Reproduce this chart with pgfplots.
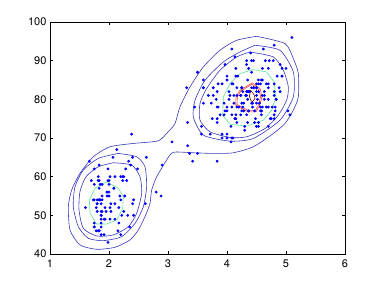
\documentclass[border=0pt]{standalone}
\usepackage{fontspec}
\setmainfont{TeX Gyre Heros}
\usepackage{pgfplots}
\usepackage{pgfplotstable}
\pgfplotsset{compat=1.18}

\definecolor{cblue}{RGB}{55,55,185}
\definecolor{cgreen}{RGB}{90,230,150}
\definecolor{cred}{RGB}{240,70,60}
\definecolor{cdred}{RGB}{130,0,0}

% eruption duration (min) vs waiting time (min)
\pgfplotstableread{
dur wait
3.600 79
1.800 54
3.333 74
2.283 62
4.533 85
2.883 55
4.700 88
3.600 85
1.950 51
4.350 85
1.833 54
3.917 84
4.200 78
1.750 47
4.700 83
2.167 52
1.750 62
4.800 84
1.600 52
4.250 79
1.800 51
1.750 47
3.450 78
3.067 69
4.533 74
3.600 83
1.967 55
4.083 76
3.850 78
4.433 79
4.300 73
4.467 77
3.367 66
4.033 80
3.833 74
2.017 52
1.867 48
4.833 80
1.833 59
4.783 90
4.350 80
1.883 58
4.567 84
1.750 58
4.533 73
3.317 83
3.833 64
2.100 53
4.633 82
2.000 59
4.800 75
4.716 90
1.833 54
4.833 80
1.733 54
4.883 83
3.717 71
1.667 64
4.567 77
4.317 81
2.233 59
4.500 84
1.750 48
4.800 82
1.817 60
4.400 92
4.167 78
4.700 78
2.067 65
4.700 73
4.033 82
1.967 56
4.500 79
4.000 71
1.983 62
5.067 76
2.017 60
4.567 78
3.883 76
3.600 83
4.133 75
4.333 82
4.100 70
2.633 65
4.067 73
4.933 88
3.950 76
4.517 80
2.167 48
4.000 86
2.200 60
4.333 90
1.867 50
4.817 78
1.833 63
4.300 72
4.667 84
3.750 75
1.867 51
4.900 82
2.483 62
4.367 88
2.100 49
4.500 83
4.050 81
1.867 47
4.700 84
1.783 52
4.850 86
3.683 81
4.733 75
2.300 59
4.900 89
4.417 79
1.700 59
4.633 81
2.317 50
4.600 85
1.817 59
4.417 87
2.617 53
4.067 69
4.250 77
1.967 56
4.600 88
3.767 81
1.917 45
4.500 82
2.267 55
4.650 90
1.867 45
4.167 83
2.800 56
4.333 89
1.833 46
4.383 82
1.883 51
4.933 86
2.033 53
3.733 79
4.233 81
2.233 60
4.533 82
4.817 77
4.333 76
1.983 59
4.633 80
2.017 49
5.100 96
1.800 53
5.033 77
4.000 77
2.400 65
4.600 81
3.567 71
4.000 70
4.500 81
4.083 93
1.800 53
3.967 89
2.200 45
4.150 86
2.000 58
3.833 78
3.500 66
4.583 76
2.367 63
5.000 88
1.933 52
4.617 93
1.917 49
2.083 57
4.583 77
3.333 68
4.167 81
4.333 81
4.500 73
2.417 50
4.000 85
4.167 74
1.883 55
4.583 77
4.250 83
3.767 83
2.033 51
4.433 78
4.083 84
1.833 46
4.417 83
2.183 55
4.800 81
1.833 57
4.800 76
4.100 84
3.966 77
4.233 81
3.500 87
4.366 77
2.250 51
4.667 78
2.100 60
4.350 82
4.133 91
1.867 53
4.600 78
1.783 46
4.367 77
3.850 84
1.933 49
4.500 83
2.383 71
4.700 80
1.867 49
3.833 75
3.417 64
4.233 76
2.400 53
4.800 94
2.000 55
4.150 76
1.867 50
4.267 82
1.750 54
4.483 75
4.000 78
4.117 79
4.083 78
4.267 78
3.917 70
4.550 79
4.083 70
2.417 54
4.183 86
2.217 50
4.450 90
1.883 54
1.850 54
4.283 77
3.950 79
2.333 64
4.150 75
2.350 47
4.933 86
2.900 63
4.583 85
3.833 82
2.083 57
4.367 82
2.133 67
4.350 74
2.200 54
4.450 83
3.567 73
4.500 73
4.150 88
3.817 80
3.917 71
4.450 83
2.000 56
4.283 79
4.767 78
4.533 84
1.850 58
4.250 83
1.983 43
2.250 60
4.750 75
4.117 81
2.150 46
4.417 90
1.817 46
4.467 74
}\faithful

\begin{document}
\begin{tikzpicture}
\path (0,0) rectangle (382pt,286pt);
\begin{axis}[
  at={(50pt,32pt)}, anchor=south west,
  scale only axis, width=295pt, height=232pt,
  xmin=1, xmax=6, ymin=40, ymax=100,
  xtick={1,2,3,4,5,6}, ytick={40,50,60,70,80,90,100},
  tick align=inside, major tick length=3pt,
  tick style={black, line width=0.5pt},
  axis line style={line width=0.5pt},
  ticklabel style={font=\fontsize{11}{13}\selectfont},
  xticklabel style={yshift=-2pt},
  /pgf/number format/assume math mode=true,
  every axis plot/.append style={line width=0.6pt},
]
% outer contour joining both clusters
\addplot[cblue, smooth, tension=0.4] coordinates {
  (4.503,96.30) (4.983,94.41) (5.124,90.53) (5.209,86.66) (5.209,80.64)
  (5.124,77.19) (4.983,73.75) (4.785,71.17) (4.446,67.73) (4.107,66.18)
  (3.768,66.01) (3.429,66.18) (3.090,66.30) (2.977,64.29) (2.808,59.98)
  (2.723,56.54) (2.695,53.10) (2.610,49.66) (2.497,46.21) (2.356,43.63)
  (2.102,41.74) (1.791,41.22) (1.508,42.34) (1.339,46.21) (1.311,52.24)
  (1.367,56.54) (1.508,60.84) (1.734,65.15) (2.017,67.73) (2.412,68.59)
  (2.836,69.28) (3.000,71.60) (3.119,73.75) (3.203,78.06) (3.373,83.22)
  (3.599,88.38) (3.881,92.69) (4.164,95.27) (4.503,96.30)};
% upper cluster
\addplot[cblue, smooth, tension=0.4] coordinates {
  (4.475,93.98) (4.898,92.68) (5.124,87.09) (5.124,80.64) (4.898,74.61)
  (4.446,69.88) (4.051,69.19) (3.599,70.74) (3.429,75.47) (3.458,79.78)
  (3.627,84.94) (3.938,89.67) (4.220,92.25) (4.475,93.98)};
\addplot[cblue, smooth, tension=0.4] coordinates {
  (4.390,92.25) (4.785,90.96) (4.955,87.52) (5.040,83.22) (5.011,79.78)
  (4.870,75.90) (4.644,72.46) (4.333,70.31) (4.051,70.14) (3.712,71.60)
  (3.542,74.61) (3.542,78.92) (3.655,82.79) (3.881,87.52) (4.164,90.96)
  (4.390,92.25)};
\addplot[cgreen] coordinates {
  (4.446,87.69) (4.672,87.09) (4.797,84.51) (4.831,80.64) (4.757,77.19)
  (4.616,74.61) (4.333,73.06) (4.051,73.58) (3.927,75.90) (3.938,80.64)
  (4.051,84.08) (4.220,86.66) (4.446,87.69)};
\addplot[cred] coordinates {
  (4.429,84.25) (4.559,82.79) (4.593,80.64) (4.548,78.23) (4.492,76.76)
  (4.362,76.76) (4.249,77.62) (4.147,78.49) (4.153,80.64) (4.220,82.36)
  (4.333,83.39) (4.429,84.25)};
\addplot[cred] coordinates {
  (4.423,83.88) (4.540,82.56) (4.571,80.63) (4.530,78.46) (4.480,77.13)
  (4.363,77.13) (4.261,77.91) (4.169,78.69) (4.175,80.63) (4.235,82.17)
  (4.337,83.10) (4.423,83.88)};
\addplot[cdred] coordinates {
  (4.401,82.36) (4.463,81.07) (4.475,80.21) (4.429,79.35) (4.401,79.78)
  (4.379,80.81) (4.401,82.36)};
% lower cluster
\addplot[cblue, smooth, tension=0.4] coordinates {
  (2.158,66.01) (2.469,65.15) (2.610,62.56) (2.638,57.40) (2.582,52.24)
  (2.441,47.93) (2.215,44.49) (1.904,43.46) (1.650,44.06) (1.480,47.07)
  (1.395,52.24) (1.424,57.40) (1.565,61.70) (1.819,64.72) (2.158,66.01)};
\addplot[cblue, smooth, tension=0.4] coordinates {
  (2.073,63.60) (2.384,63.00) (2.525,59.98) (2.554,55.68) (2.469,50.52)
  (2.328,47.07) (2.073,44.92) (1.791,44.66) (1.565,46.64) (1.492,51.38)
  (1.508,56.11) (1.610,59.98) (1.819,62.56) (2.073,63.60)};
\addplot[cgreen] coordinates {
  (1.960,58.69) (2.158,56.97) (2.243,54.82) (2.232,51.81) (2.130,48.79)
  (1.960,47.76) (1.791,47.76) (1.678,50.52) (1.667,53.96) (1.763,56.97)
  (1.960,58.69)};
% data points
\addplot[only marks, mark=*, mark size=1.1pt, color={rgb,255:red,0;green,0;blue,255}]
  table[x=dur, y=wait] {\faithful};
\end{axis}
\end{tikzpicture}
\end{document}
